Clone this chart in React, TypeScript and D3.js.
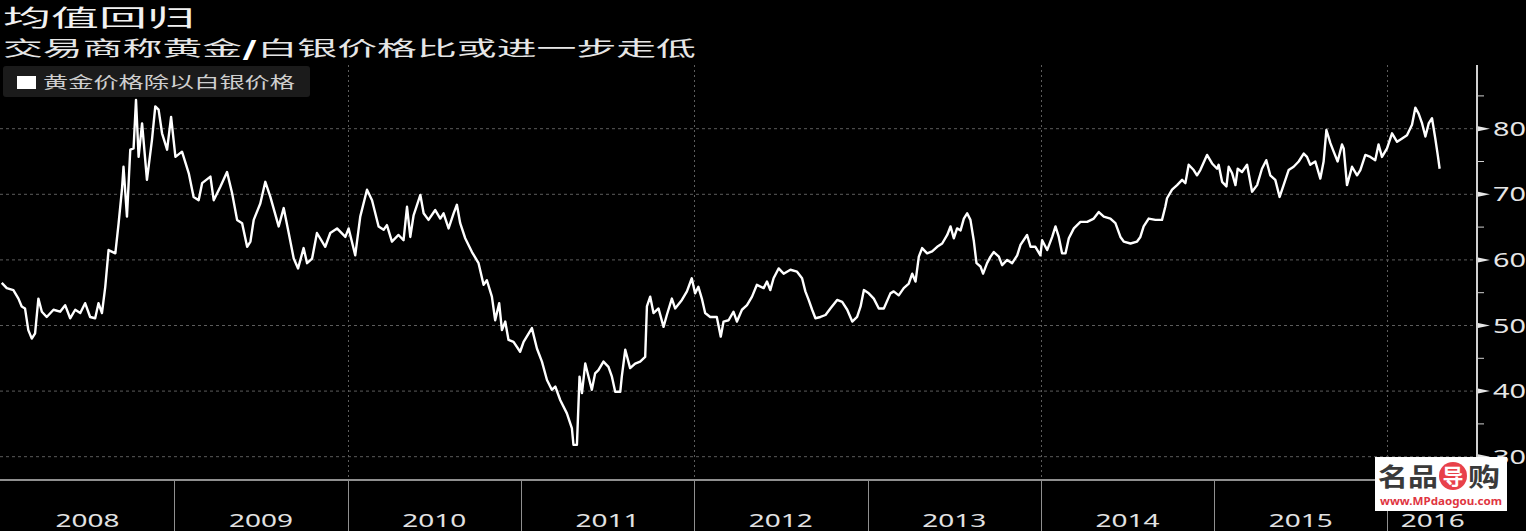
import { useEffect, useRef } from "react";
import * as d3 from "d3";

const title = "均值回归";
const subtitleHead = "交易商称黄金";
const subtitleSlash = "/";
const subtitleTail = "白银价格比或进一步走低";
const legendLabel = "黄金价格除以白银价格";
const yearLabels = ["2008", "2009", "2010", "2011", "2012", "2013", "2014", "2015", "2016"];
const yTicks = [30, 40, 50, 60, 70, 80];
const yMinorTicks = [35, 45, 55, 65, 75, 85];
const gridYears = [2010, 2012, 2014, 2016];

// years elapsed since 1 Jan 2008 for each sample
const sampleTimes = [
  // 2008
  0.006, 0.035, 0.073, 0.102, 0.121, 0.14, 0.159, 0.179, 0.198, 0.217,
  0.237, 0.265, 0.304, 0.342, 0.371, 0.4, 0.429, 0.458, 0.486, 0.515,
  0.544, 0.563, 0.583, 0.602, 0.621, 0.66, 0.679, 0.698, 0.707, 0.727,
  0.746, 0.765, 0.779, 0.794, 0.814, 0.842, 0.871, 0.89, 0.909, 0.929,
  0.958, 0.981,
  // 2009
  1.006, 1.044, 1.083, 1.111, 1.14, 1.16, 1.208, 1.227, 1.266, 1.304,
  1.333, 1.362, 1.391, 1.42, 1.439, 1.458, 1.496, 1.525, 1.554, 1.602,
  1.631, 1.66, 1.689, 1.714, 1.746, 1.766, 1.795, 1.823, 1.871, 1.9,
  1.939, 1.987,
  // 2010
  2.006, 2.044, 2.073, 2.112, 2.141, 2.179, 2.208, 2.227, 2.256, 2.294,
  2.323, 2.343, 2.362, 2.381, 2.42, 2.439, 2.467, 2.506, 2.535, 2.554,
  2.583, 2.612, 2.631, 2.65, 2.679, 2.718, 2.756, 2.785, 2.804, 2.833,
  2.852, 2.875, 2.891, 2.91, 2.929, 2.958, 2.996,
  // 2011
  3.016, 3.064, 3.093, 3.122, 3.151, 3.179, 3.199, 3.228, 3.266, 3.295,
  3.304, 3.324, 3.339, 3.353, 3.372, 3.391, 3.41, 3.429, 3.448, 3.477,
  3.506, 3.526, 3.545, 3.574, 3.583, 3.603, 3.631, 3.66, 3.689, 3.718,
  3.728, 3.747, 3.766, 3.795, 3.824, 3.843, 3.872, 3.891, 3.93, 3.959,
  3.987,
  // 2012
  4.006, 4.025, 4.045, 4.064, 4.093, 4.131, 4.154, 4.17, 4.199, 4.227,
  4.247, 4.276, 4.305, 4.334, 4.362, 4.401, 4.42, 4.439, 4.458, 4.487,
  4.516, 4.555, 4.593, 4.622, 4.641, 4.66, 4.68, 4.699, 4.728, 4.757,
  4.785, 4.824, 4.853, 4.882, 4.911, 4.939, 4.959, 4.978,
  // 2013
  5.006, 5.035, 5.064, 5.093, 5.131, 5.15, 5.179, 5.208, 5.237, 5.257,
  5.276, 5.295, 5.314, 5.343, 5.372, 5.401, 5.43, 5.459, 5.478, 5.497,
  5.516, 5.536, 5.555, 5.574, 5.593, 5.612, 5.628, 5.651, 5.666, 5.689,
  5.709, 5.728, 5.757, 5.776, 5.805, 5.834, 5.863, 5.882, 5.92, 5.94,
  5.968, 5.997,
  // 2014
  6.007, 6.036, 6.065, 6.084, 6.103, 6.122, 6.142, 6.161, 6.19, 6.228,
  6.267, 6.305, 6.334, 6.363, 6.401, 6.43, 6.459, 6.478, 6.517, 6.555,
  6.574, 6.593, 6.622, 6.661, 6.699, 6.718, 6.728, 6.757, 6.786, 6.815,
  6.834, 6.853, 6.882, 6.901, 6.92, 6.959, 6.988,
  // 2015
  7.017, 7.026, 7.046, 7.071, 7.084, 7.104, 7.123, 7.136, 7.161, 7.19,
  7.219, 7.248, 7.276, 7.301, 7.324, 7.353, 7.378, 7.401, 7.43, 7.459,
  7.488, 7.517, 7.536, 7.555, 7.584, 7.613, 7.632, 7.648, 7.671, 7.69,
  7.713, 7.738, 7.748, 7.767, 7.796, 7.825, 7.844, 7.873, 7.902, 7.93,
  7.949, 7.969, 7.998,
  // 2016
  8.027, 8.056, 8.085, 8.113, 8.142, 8.161, 8.18, 8.2, 8.219, 8.238,
  8.257, 8.276, 8.29, 8.301,
];

// gold price divided by silver price
const ratioValues = [
  // 2008
  56.5, 55.7, 55.4, 54.1, 52.9, 52.6, 49.3, 48.0, 48.8, 54.1,
  52.1, 51.3, 52.4, 52.1, 53.1, 51.1, 52.4, 51.9, 53.4, 51.3,
  51.1, 53.4, 51.9, 55.9, 61.5, 61.0, 65.6, 70.7, 74.2, 66.6,
  76.8, 77.0, 84.4, 75.7, 80.8, 72.2, 78.3, 83.4, 82.9, 79.3,
  76.8, 81.8,
  // 2009
  75.7, 76.5, 73.2, 69.6, 69.1, 71.7, 72.7, 69.1, 71.2, 73.4,
  70.2, 66.1, 65.6, 62.0, 62.8, 66.1, 68.6, 71.9, 69.6, 65.1,
  67.9, 64.1, 60.2, 58.7, 61.8, 59.5, 60.2, 64.1, 62.0, 64.1,
  64.8, 63.5,
  // 2010
  64.8, 60.7, 66.6, 70.7, 69.1, 65.1, 64.6, 65.3, 62.8, 63.8,
  63.0, 68.1, 63.5, 66.8, 69.9, 67.1, 66.1, 67.6, 66.3, 67.1,
  64.8, 67.1, 68.4, 65.6, 63.3, 61.2, 59.5, 56.2, 56.9, 54.4,
  50.8, 53.4, 49.3, 50.6, 47.8, 47.5, 46.0,
  // 2011
  47.5, 49.6, 46.5, 44.5, 41.7, 40.2, 40.7, 38.6, 36.6, 34.3,
  31.8, 31.8, 42.2, 39.7, 44.2, 42.2, 40.2, 42.7, 43.2, 44.5,
  43.7, 42.2, 39.9, 39.9, 42.2, 46.3, 43.5, 44.2, 44.5, 45.2,
  52.9, 54.4, 51.9, 52.6, 49.8, 51.6, 54.1, 52.6, 53.9, 55.2,
  57.2,
  // 2012
  54.9, 55.9, 54.1, 51.9, 51.3, 51.3, 48.3, 50.6, 50.8, 52.1,
  50.6, 52.4, 53.1, 54.4, 56.2, 55.7, 56.7, 55.4, 57.2, 58.7,
  57.9, 58.5, 58.2, 57.2, 55.2, 53.9, 52.4, 51.1, 51.3, 51.6,
  52.6, 53.9, 53.6, 52.4, 50.6, 51.3, 52.9, 55.4,
  // 2013
  54.9, 54.1, 52.6, 52.6, 54.9, 55.2, 54.6, 55.7, 56.4, 57.9,
  56.7, 60.5, 61.8, 61.0, 61.3, 62.0, 62.5, 63.8, 65.1, 63.3,
  64.8, 64.5, 66.3, 67.1, 66.1, 63.0, 59.5, 59.0, 57.9, 59.5,
  60.5, 61.2, 60.5, 59.2, 60.0, 59.5, 60.7, 62.3, 63.8, 62.0,
  62.0, 60.7,
  // 2014
  63.0, 61.5, 63.5, 65.1, 63.5, 61.0, 61.0, 63.3, 64.8, 65.8,
  65.8, 66.3, 67.3, 66.6, 66.3, 65.6, 63.5, 62.8, 62.5, 62.8,
  63.5, 65.1, 66.3, 66.1, 66.1, 68.1, 69.4, 70.7, 71.4, 72.2,
  71.7, 74.5, 73.7, 72.9, 73.7, 76.0, 74.7,
  // 2015
  73.9, 74.5, 71.9, 71.2, 74.2, 73.2, 71.4, 73.9, 73.4, 74.5,
  70.4, 71.4, 73.9, 75.2, 72.9, 72.2, 69.6, 71.4, 73.7, 74.2,
  75.0, 76.2, 75.7, 74.5, 75.0, 72.4, 75.0, 79.8, 77.8, 76.5,
  75.0, 77.6, 77.0, 71.4, 74.2, 72.9, 73.7, 76.0, 75.7, 75.2,
  77.6, 75.7, 77.0,
  // 2016
  79.3, 78.0, 78.5, 79.0, 80.6, 83.2, 82.3, 80.8, 78.8, 80.8,
  81.6, 78.5, 76.0, 73.9,
];

const cjk = "'Noto Sans CJK SC', 'Noto Sans', sans-serif";
const latin = "'Noto Sans', 'DejaVu Sans', sans-serif";

function toDate(t: number) {
  const yr = 2008 + Math.floor(t);
  const start = new Date(yr, 0, 1).getTime();
  const end = new Date(yr + 1, 0, 1).getTime();
  return new Date(start + (t - Math.floor(t)) * (end - start));
}

const GoldSilverChart = () => {
  const ref = useRef<SVGSVGElement>(null);

  useEffect(() => {
    document.body.style.margin = "0";
    document.body.style.background = "#000";

    const width = 1526;
    const height = 531;
    const axisX = 1478;
    const axisTop = 65;
    const baseY = 480;

    const svg = d3.select(ref.current);
    svg.selectAll("*").remove();
    svg.append("rect").attr("width", width).attr("height", height).attr("fill", "#000");

    const x = d3
      .scaleTime()
      .domain([new Date(2008, 0, 1), new Date(2016, 6, 10)])
      .range([0.7, axisX]);
    const y = d3.scaleLinear().domain([30, 80]).range([456.7, 128.7]);

    // horizontal grid
    yTicks.forEach((v) => {
      svg
        .append("line")
        .attr("x1", 0)
        .attr("x2", axisX)
        .attr("y1", y(v))
        .attr("y2", y(v))
        .attr("stroke", "#5c5c5c")
        .attr("stroke-width", 1)
        .attr("stroke-dasharray", "3,3");
    });

    // vertical grid every two years
    gridYears.forEach((yr) => {
      const gx = Math.round(x(new Date(yr, 0, 1))) + 0.5;
      svg
        .append("line")
        .attr("x1", gx)
        .attr("x2", gx)
        .attr("y1", axisTop)
        .attr("y2", baseY)
        .attr("stroke", "#5c5c5c")
        .attr("stroke-width", 1)
        .attr("stroke-dasharray", "2,3");
    });

    // bottom axis line + year separators
    svg
      .append("line")
      .attr("x1", 0)
      .attr("x2", axisX)
      .attr("y1", baseY)
      .attr("y2", baseY)
      .attr("stroke", "#8f8f8f")
      .attr("stroke-width", 2);

    yearLabels.forEach((label, i) => {
      const yr = 2008 + i;
      const sx = x(new Date(yr, 0, 1));
      const ex = Math.min(x(new Date(yr + 1, 0, 1)), axisX);
      if (i > 0) {
        svg
          .append("line")
          .attr("x1", Math.round(sx) + 0.5)
          .attr("x2", Math.round(sx) + 0.5)
          .attr("y1", baseY)
          .attr("y2", height)
          .attr("stroke", "#8f8f8f")
          .attr("stroke-width", 1);
      }
      const cx = (sx + ex) / 2;
      svg
        .append("text")
        .attr("x", cx - 32)
        .attr("y", 527)
        .attr("font-family", latin)
        .attr("font-size", 18)
        .attr("fill", "#e2e2e2")
        .attr("textLength", 64)
        .attr("lengthAdjust", "spacingAndGlyphs")
        .text(label);
    });

    // right value axis
    svg
      .append("line")
      .attr("x1", axisX - 1)
      .attr("x2", axisX - 1)
      .attr("y1", axisTop)
      .attr("y2", baseY)
      .attr("stroke", "#d0d0d0")
      .attr("stroke-width", 2);

    yMinorTicks.forEach((v) => {
      svg
        .append("line")
        .attr("x1", axisX)
        .attr("x2", axisX + 6)
        .attr("y1", y(v))
        .attr("y2", y(v))
        .attr("stroke", "#d0d0d0")
        .attr("stroke-width", 1);
    });

    yTicks.forEach((v) => {
      const ty = y(v);
      svg
        .append("path")
        .attr("d", `M${axisX},${ty - 2.5}L${axisX + 12},${ty}L${axisX},${ty + 2.5}Z`)
        .attr("fill", "#e6e6e6");
      svg
        .append("text")
        .attr("x", axisX + 15)
        .attr("y", ty + 7)
        .attr("font-family", latin)
        .attr("font-size", 20)
        .attr("fill", "#e6e6e6")
        .attr("textLength", 33)
        .attr("lengthAdjust", "spacingAndGlyphs")
        .text(String(v));
    });

    // the ratio line
    const n = Math.min(sampleTimes.length, ratioValues.length);
    const points = d3.range(n).map((i) => ({ date: toDate(sampleTimes[i]), value: ratioValues[i] }));
    const line = d3
      .line<{ date: Date; value: number }>()
      .x((d) => x(d.date))
      .y((d) => y(d.value));

    svg
      .append("path")
      .datum(points)
      .attr("d", line)
      .attr("fill", "none")
      .attr("stroke", "#fff")
      .attr("stroke-width", 2.4)
      .attr("stroke-linejoin", "round");

    // titles
    svg
      .append("text")
      .attr("x", 3)
      .attr("y", 25.5)
      .attr("font-family", cjk)
      .attr("font-size", 23)
      .attr("fill", "#f2f2f2")
      .attr("textLength", 192)
      .attr("lengthAdjust", "spacingAndGlyphs")
      .text(title);

    const sub = svg
      .append("text")
      .attr("x", 3)
      .attr("y", 55.5)
      .attr("font-family", cjk)
      .attr("font-size", 20)
      .attr("fill", "#e6e6e6")
      .attr("textLength", 693)
      .attr("lengthAdjust", "spacingAndGlyphs");
    sub.append("tspan").text(subtitleHead);
    sub.append("tspan").attr("font-weight", 900).attr("fill", "#fff").text(subtitleSlash);
    sub.append("tspan").text(subtitleTail);

    // legend
    svg
      .append("rect")
      .attr("x", 3)
      .attr("y", 66)
      .attr("width", 307)
      .attr("height", 31)
      .attr("rx", 3)
      .attr("fill", "#1b1b1b");
    svg
      .append("rect")
      .attr("x", 17)
      .attr("y", 76)
      .attr("width", 19)
      .attr("height", 13)
      .attr("fill", "#fff");
    svg
      .append("text")
      .attr("x", 43)
      .attr("y", 87.5)
      .attr("font-family", cjk)
      .attr("font-size", 16)
      .attr("fill", "#cfcfcf")
      .attr("textLength", 252)
      .attr("lengthAdjust", "spacingAndGlyphs")
      .text(legendLabel);

    // watermark
    const wm = svg.append("g");
    wm.append("rect").attr("x", 1375).attr("y", 457).attr("width", 132).attr("height", 54).attr("fill", "#fff");
    wm.append("text")
      .attr("x", 1378)
      .attr("y", 485.5)
      .attr("font-family", cjk)
      .attr("font-size", 25)
      .attr("font-weight", "bold")
      .attr("fill", "#3a3a3a")
      .attr("textLength", 60)
      .attr("lengthAdjust", "spacingAndGlyphs")
      .text("名品");
    wm.append("circle").attr("cx", 1453).attr("cy", 476).attr("r", 14).attr("fill", "#e8414a");
    wm.append("text")
      .attr("x", 1453)
      .attr("y", 483.5)
      .attr("text-anchor", "middle")
      .attr("font-family", cjk)
      .attr("font-size", 21)
      .attr("font-weight", "bold")
      .attr("fill", "#fff")
      .text("导");
    wm.append("text")
      .attr("x", 1468)
      .attr("y", 485.5)
      .attr("font-family", cjk)
      .attr("font-size", 25)
      .attr("font-weight", "bold")
      .attr("fill", "#3a3a3a")
      .attr("textLength", 32)
      .attr("lengthAdjust", "spacingAndGlyphs")
      .text("购");
    wm.append("text")
      .attr("x", 1380)
      .attr("y", 504.5)
      .attr("font-family", latin)
      .attr("font-size", 10.5)
      .attr("font-weight", "bold")
      .attr("fill", "#e0353f")
      .attr("textLength", 122)
      .attr("lengthAdjust", "spacingAndGlyphs")
      .text("www.MPdaogou.com");
  }, []);

  return <svg ref={ref} width={1526} height={531} style={{ display: "block" }} />;
};

export default function App() {
  return <GoldSilverChart />;
}
